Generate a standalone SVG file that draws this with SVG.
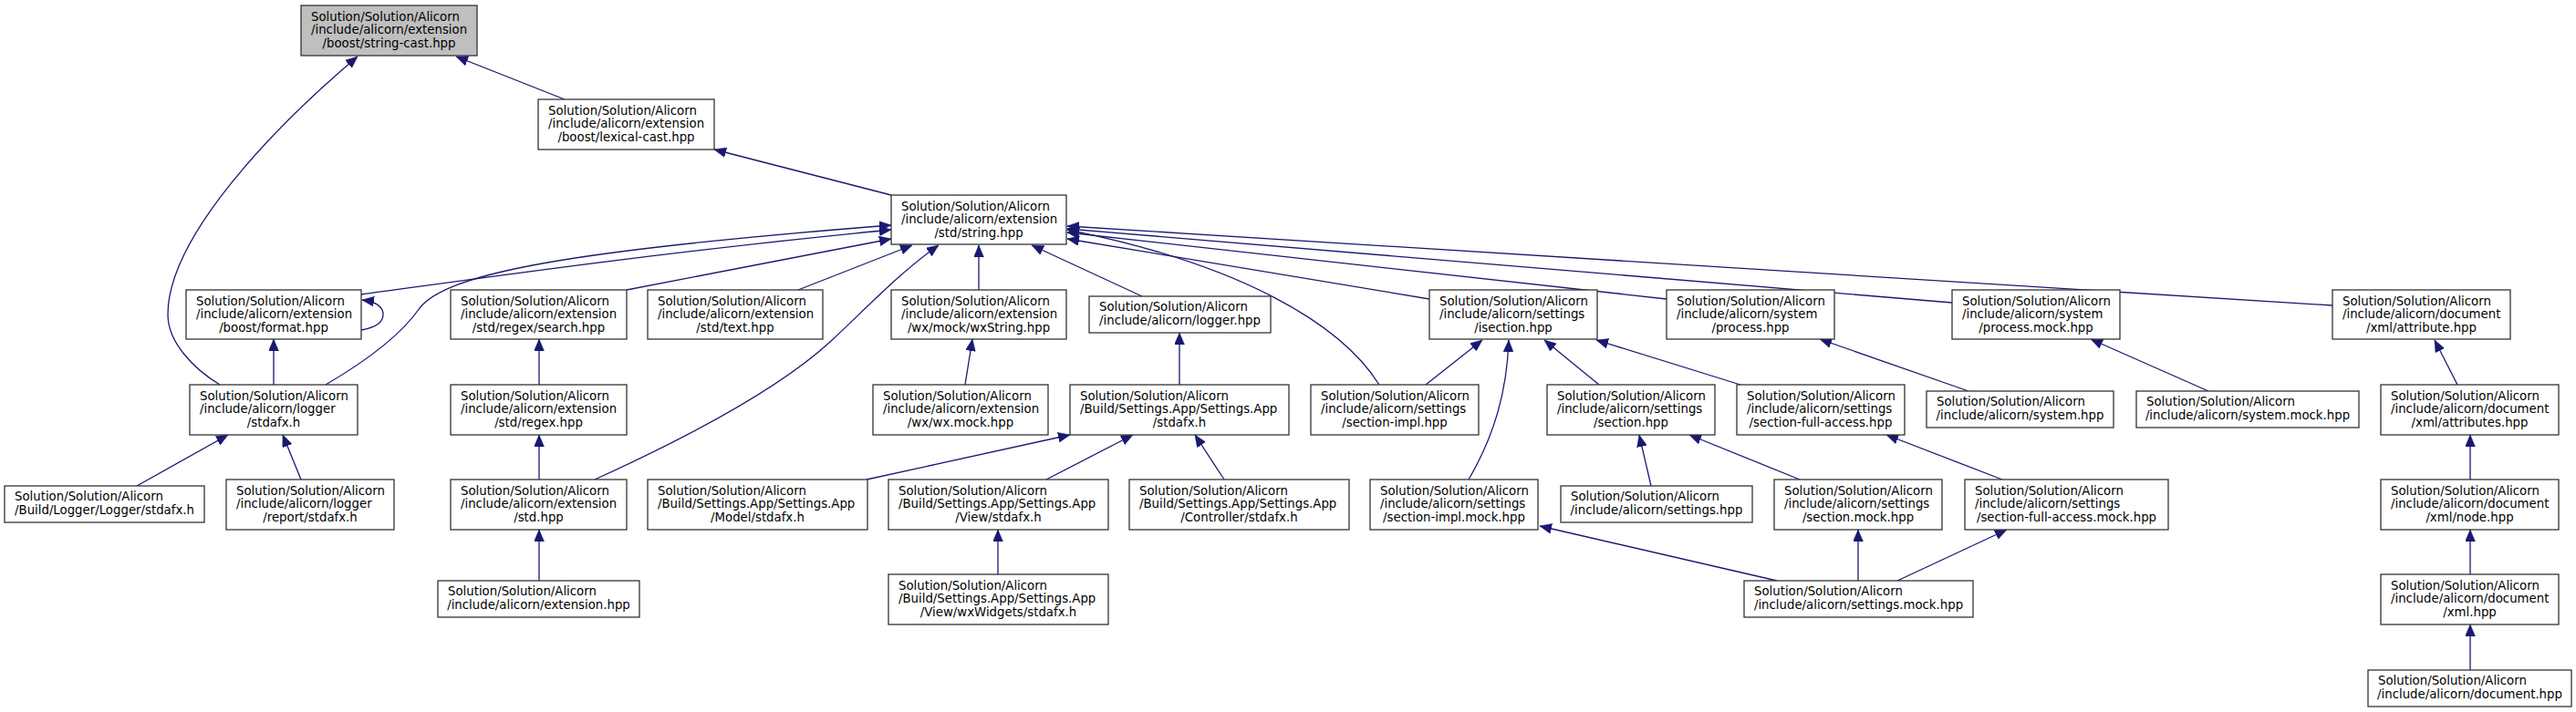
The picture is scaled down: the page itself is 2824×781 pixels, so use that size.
<svg xmlns="http://www.w3.org/2000/svg" width="2824" height="781" viewBox="0 0 2824 781">
<defs>
<style>
.n rect{fill:#fff;stroke:#333;stroke-width:1.3}
.root rect{fill:#bfbfbf}
.n text{font-family:"DejaVu Sans","Liberation Sans",sans-serif;font-size:13.3px;fill:#000}
.m{text-anchor:middle}
#edges path{fill:none;stroke:#191970;stroke-width:1.3;marker-end:url(#ah)}
</style>
<marker id="ah" viewBox="0 0 13 11" refX="13" refY="5.5" markerWidth="13" markerHeight="11" markerUnits="userSpaceOnUse" orient="auto">
<path d="M0,0 L13,5.5 L0,11 z" fill="#191970" stroke="#191970" stroke-width="0.5"/>
</marker>
</defs>
<rect width="2824" height="781" fill="#fff"/>
<g id="edges">
<path d="M619,109 L500,62"/>
<path d="M241,422 C213,405 184,376 184,345 C184,260 300,140 392,62"/>
<path d="M977,214 L783,164"/>
<path d="M396,323 C520,306 720,277 977,252"/>
<path d="M357,422 C398,398 438,370 460,338 C490,300 620,275 977,247"/>
<path d="M687,318 L977,262"/>
<path d="M875,318 L1000,269"/>
<path d="M652,526 C740,486 850,430 910,375 C950,338 985,300 1029,269"/>
<path d="M1073,318 L1073,269"/>
<path d="M1252,325 L1131,269"/>
<path d="M1567,328 L1170,262"/>
<path d="M1827,328 L1170,255"/>
<path d="M2140,332 L1170,251"/>
<path d="M2557,335 L1170,248"/>
<path d="M1512,422 C1470,355 1360,290 1170,252"/>
<path d="M396,362 C408,360 420,355 420,345 C420,336 412,331 397,329"/>
<path d="M300,422 L300,372"/>
<path d="M150,533 L250,477"/>
<path d="M330,526 L310,477"/>
<path d="M591,422 L591,372"/>
<path d="M591,526 L591,477"/>
<path d="M591,637 L591,581"/>
<path d="M1058,422 L1066,372"/>
<path d="M1293,422 L1293,365"/>
<path d="M950,526 L1173,477"/>
<path d="M1147,526 L1242,477"/>
<path d="M1342,526 L1310,477"/>
<path d="M1094,630 L1094,581"/>
<path d="M1563,422 L1625,373"/>
<path d="M1610,526 C1638,478 1652,430 1654,373"/>
<path d="M1753,422 L1693,373"/>
<path d="M1908,422 L1750,373"/>
<path d="M1810,533 L1797,477"/>
<path d="M1973,526 L1852,477"/>
<path d="M2195,526 L2068,477"/>
<path d="M2037,637 L2037,581"/>
<path d="M2080,637 L2200,581"/>
<path d="M1948,637 L1688,577"/>
<path d="M2158,429 L1995,372"/>
<path d="M2421,429 L2292,372"/>
<path d="M2694,422 L2669,373"/>
<path d="M2708,526 L2708,477"/>
<path d="M2708,630 L2708,581"/>
<path d="M2708,735 L2708,685"/>
</g>
<g id="n1" class="n root"><rect x="330" y="6" width="193" height="55"/><text x="341" y="22.5">Solution/Solution/Alicorn</text><text x="341" y="37">/include/alicorn/extension</text><text class="m" x="426.5" y="51.5">/boost/string-cast.hpp</text></g>
<g id="n2" class="n"><rect x="590" y="109" width="193" height="55"/><text x="601" y="125.5">Solution/Solution/Alicorn</text><text x="601" y="140">/include/alicorn/extension</text><text class="m" x="686.5" y="154.5">/boost/lexical-cast.hpp</text></g>
<g id="n3" class="n"><rect x="977" y="214" width="192" height="54"/><text x="988" y="230.5">Solution/Solution/Alicorn</text><text x="988" y="245">/include/alicorn/extension</text><text class="m" x="1073" y="259.5">/std/string.hpp</text></g>
<g id="n4" class="n"><rect x="204" y="318" width="192" height="54"/><text x="215" y="334.5">Solution/Solution/Alicorn</text><text x="215" y="349">/include/alicorn/extension</text><text class="m" x="300" y="363.5">/boost/format.hpp</text></g>
<g id="n5" class="n"><rect x="494" y="318" width="193" height="54"/><text x="505" y="334.5">Solution/Solution/Alicorn</text><text x="505" y="349">/include/alicorn/extension</text><text class="m" x="590.5" y="363.5">/std/regex/search.hpp</text></g>
<g id="n6" class="n"><rect x="710" y="318" width="192" height="54"/><text x="721" y="334.5">Solution/Solution/Alicorn</text><text x="721" y="349">/include/alicorn/extension</text><text class="m" x="806" y="363.5">/std/text.hpp</text></g>
<g id="n7" class="n"><rect x="977" y="318" width="192" height="54"/><text x="988" y="334.5">Solution/Solution/Alicorn</text><text x="988" y="349">/include/alicorn/extension</text><text class="m" x="1073" y="363.5">/wx/mock/wxString.hpp</text></g>
<g id="n8" class="n"><rect x="1194" y="325" width="199" height="40"/><text x="1205" y="341">Solution/Solution/Alicorn</text><text class="m" x="1293.5" y="356">/include/alicorn/logger.hpp</text></g>
<g id="n9" class="n"><rect x="1567" y="318" width="184" height="54"/><text x="1578" y="334.5">Solution/Solution/Alicorn</text><text x="1578" y="349">/include/alicorn/settings</text><text class="m" x="1659" y="363.5">/isection.hpp</text></g>
<g id="n10" class="n"><rect x="1827" y="318" width="184" height="54"/><text x="1838" y="334.5">Solution/Solution/Alicorn</text><text x="1838" y="349">/include/alicorn/system</text><text class="m" x="1919" y="363.5">/process.hpp</text></g>
<g id="n11" class="n"><rect x="2140" y="318" width="184" height="54"/><text x="2151" y="334.5">Solution/Solution/Alicorn</text><text x="2151" y="349">/include/alicorn/system</text><text class="m" x="2232" y="363.5">/process.mock.hpp</text></g>
<g id="n12" class="n"><rect x="2557" y="318" width="195" height="54"/><text x="2568" y="334.5">Solution/Solution/Alicorn</text><text x="2568" y="349">/include/alicorn/document</text><text class="m" x="2654.5" y="363.5">/xml/attribute.hpp</text></g>
<g id="n13" class="n"><rect x="208" y="422" width="184" height="55"/><text x="219" y="438.5">Solution/Solution/Alicorn</text><text x="219" y="453">/include/alicorn/logger</text><text class="m" x="300" y="467.5">/stdafx.h</text></g>
<g id="n14" class="n"><rect x="494" y="422" width="193" height="55"/><text x="505" y="438.5">Solution/Solution/Alicorn</text><text x="505" y="453">/include/alicorn/extension</text><text class="m" x="590.5" y="467.5">/std/regex.hpp</text></g>
<g id="n15" class="n"><rect x="957" y="422" width="192" height="55"/><text x="968" y="438.5">Solution/Solution/Alicorn</text><text x="968" y="453">/include/alicorn/extension</text><text class="m" x="1053" y="467.5">/wx/wx.mock.hpp</text></g>
<g id="n16" class="n"><rect x="1173" y="422" width="240" height="55"/><text x="1184" y="438.5">Solution/Solution/Alicorn</text><text x="1184" y="453">/Build/Settings.App/Settings.App</text><text class="m" x="1293" y="467.5">/stdafx.h</text></g>
<g id="n17" class="n"><rect x="1437" y="422" width="184" height="55"/><text x="1448" y="438.5">Solution/Solution/Alicorn</text><text x="1448" y="453">/include/alicorn/settings</text><text class="m" x="1529" y="467.5">/section-impl.hpp</text></g>
<g id="n18" class="n"><rect x="1696" y="422" width="184" height="55"/><text x="1707" y="438.5">Solution/Solution/Alicorn</text><text x="1707" y="453">/include/alicorn/settings</text><text class="m" x="1788" y="467.5">/section.hpp</text></g>
<g id="n19" class="n"><rect x="1904" y="422" width="184" height="55"/><text x="1915" y="438.5">Solution/Solution/Alicorn</text><text x="1915" y="453">/include/alicorn/settings</text><text class="m" x="1996" y="467.5">/section-full-access.hpp</text></g>
<g id="n20" class="n"><rect x="2112" y="429" width="205" height="40"/><text x="2123" y="445">Solution/Solution/Alicorn</text><text class="m" x="2214.5" y="460">/include/alicorn/system.hpp</text></g>
<g id="n21" class="n"><rect x="2342" y="429" width="244" height="40"/><text x="2353" y="445">Solution/Solution/Alicorn</text><text class="m" x="2464" y="460">/include/alicorn/system.mock.hpp</text></g>
<g id="n22" class="n"><rect x="2610" y="422" width="195" height="55"/><text x="2621" y="438.5">Solution/Solution/Alicorn</text><text x="2621" y="453">/include/alicorn/document</text><text class="m" x="2707.5" y="467.5">/xml/attributes.hpp</text></g>
<g id="n23" class="n"><rect x="5" y="533" width="219" height="40"/><text x="16" y="549">Solution/Solution/Alicorn</text><text class="m" x="114.5" y="564">/Build/Logger/Logger/stdafx.h</text></g>
<g id="n24" class="n"><rect x="248" y="526" width="184" height="55"/><text x="259" y="542.5">Solution/Solution/Alicorn</text><text x="259" y="557">/include/alicorn/logger</text><text class="m" x="340" y="571.5">/report/stdafx.h</text></g>
<g id="n25" class="n"><rect x="494" y="526" width="193" height="55"/><text x="505" y="542.5">Solution/Solution/Alicorn</text><text x="505" y="557">/include/alicorn/extension</text><text class="m" x="590.5" y="571.5">/std.hpp</text></g>
<g id="n26" class="n"><rect x="710" y="526" width="241" height="55"/><text x="721" y="542.5">Solution/Solution/Alicorn</text><text x="721" y="557">/Build/Settings.App/Settings.App</text><text class="m" x="830.5" y="571.5">/Model/stdafx.h</text></g>
<g id="n27" class="n"><rect x="974" y="526" width="241" height="55"/><text x="985" y="542.5">Solution/Solution/Alicorn</text><text x="985" y="557">/Build/Settings.App/Settings.App</text><text class="m" x="1094.5" y="571.5">/View/stdafx.h</text></g>
<g id="n28" class="n"><rect x="1238" y="526" width="241" height="55"/><text x="1249" y="542.5">Solution/Solution/Alicorn</text><text x="1249" y="557">/Build/Settings.App/Settings.App</text><text class="m" x="1358.5" y="571.5">/Controller/stdafx.h</text></g>
<g id="n29" class="n"><rect x="1502" y="526" width="184" height="55"/><text x="1513" y="542.5">Solution/Solution/Alicorn</text><text x="1513" y="557">/include/alicorn/settings</text><text class="m" x="1594" y="571.5">/section-impl.mock.hpp</text></g>
<g id="n30" class="n"><rect x="1711" y="533" width="210" height="40"/><text x="1722" y="549">Solution/Solution/Alicorn</text><text class="m" x="1816" y="564">/include/alicorn/settings.hpp</text></g>
<g id="n31" class="n"><rect x="1945" y="526" width="184" height="55"/><text x="1956" y="542.5">Solution/Solution/Alicorn</text><text x="1956" y="557">/include/alicorn/settings</text><text class="m" x="2037" y="571.5">/section.mock.hpp</text></g>
<g id="n32" class="n"><rect x="2154" y="526" width="223" height="55"/><text x="2165" y="542.5">Solution/Solution/Alicorn</text><text x="2165" y="557">/include/alicorn/settings</text><text class="m" x="2265.5" y="571.5">/section-full-access.mock.hpp</text></g>
<g id="n33" class="n"><rect x="2610" y="526" width="195" height="55"/><text x="2621" y="542.5">Solution/Solution/Alicorn</text><text x="2621" y="557">/include/alicorn/document</text><text class="m" x="2707.5" y="571.5">/xml/node.hpp</text></g>
<g id="n34" class="n"><rect x="480" y="637" width="221" height="40"/><text x="491" y="653">Solution/Solution/Alicorn</text><text class="m" x="590.5" y="668">/include/alicorn/extension.hpp</text></g>
<g id="n35" class="n"><rect x="974" y="630" width="241" height="55"/><text x="985" y="646.5">Solution/Solution/Alicorn</text><text x="985" y="661">/Build/Settings.App/Settings.App</text><text class="m" x="1094.5" y="675.5">/View/wxWidgets/stdafx.h</text></g>
<g id="n36" class="n"><rect x="1912" y="637" width="251" height="40"/><text x="1923" y="653">Solution/Solution/Alicorn</text><text class="m" x="2037.5" y="668">/include/alicorn/settings.mock.hpp</text></g>
<g id="n37" class="n"><rect x="2610" y="630" width="195" height="55"/><text x="2621" y="646.5">Solution/Solution/Alicorn</text><text x="2621" y="661">/include/alicorn/document</text><text class="m" x="2707.5" y="675.5">/xml.hpp</text></g>
<g id="n38" class="n"><rect x="2596" y="735" width="223" height="40"/><text x="2607" y="751">Solution/Solution/Alicorn</text><text class="m" x="2707.5" y="766">/include/alicorn/document.hpp</text></g>
</svg>
